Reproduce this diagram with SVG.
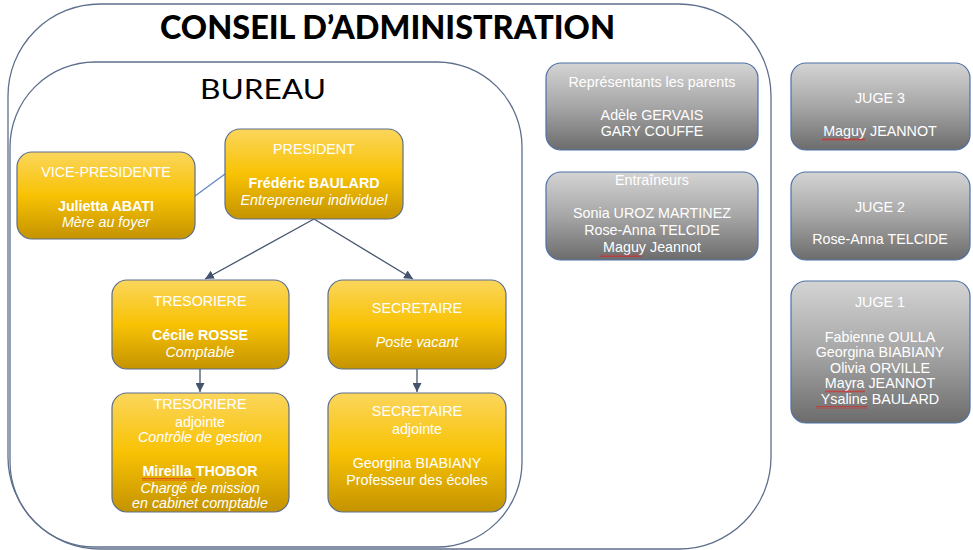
<svg xmlns="http://www.w3.org/2000/svg" width="973" height="550" viewBox="0 0 973 550">
<defs>
<linearGradient id="gy" x1="0" y1="0" x2="0" y2="1">
<stop offset="0" stop-color="#fbd65c"/>
<stop offset="0.5" stop-color="#f8c204"/>
<stop offset="1" stop-color="#c49300"/>
</linearGradient>
<linearGradient id="gg" x1="0" y1="0" x2="0" y2="1">
<stop offset="0" stop-color="#d4d4d4"/>
<stop offset="0.5" stop-color="#a6a6a6"/>
<stop offset="1" stop-color="#6c6c6c"/>
</linearGradient>
<marker id="ah" viewBox="0 0 10 10" refX="10" refY="5" markerWidth="9" markerHeight="9" markerUnits="userSpaceOnUse" orient="auto">
<path d="M0 0 L10 5 L0 10 Z" fill="#44546e"/>
</marker>
<pattern id="sq" width="4" height="3" patternUnits="userSpaceOnUse">
<path d="M0 2.5 L1 0.5 L2 2.5 L3 0.5 L4 2.5" fill="none" stroke="#e0201e" stroke-width="0.6"/>
</pattern>
</defs>
<style>
.frame{fill:none;stroke:#5d6f8c;stroke-width:1.3}
.y{fill:url(#gy);stroke:#5b6e8e;stroke-width:1.2}
.g{fill:url(#gg);stroke:#4d70a8;stroke-width:1.2}
text{font-family:"Liberation Sans",Arial,sans-serif;font-size:14.3px;fill:#ffffff;text-anchor:middle}
.b{font-weight:bold}
.i{font-style:italic}
.title{font-family:Lato,"Open Sans",sans-serif;fill:#000000;text-anchor:start;font-size:32px;font-weight:900}
.sub{font-family:Lato,"Open Sans",sans-serif;fill:#000000;text-anchor:start;font-size:27px}
.con{fill:none;stroke:#44546e;stroke-width:1.3}
.sq{fill:url(#sq)}
</style>

<g id="conseil">
<rect class="frame" x="8" y="4" width="763" height="545" rx="92" ry="92"/>
<text class="title" x="160" y="39" textLength="455" lengthAdjust="spacingAndGlyphs">CONSEIL D’ADMINISTRATION</text>
</g>
<g id="bureau">
<rect class="frame" x="10" y="62" width="512" height="485" rx="85" ry="85"/>
<text class="sub" x="200" y="99" textLength="126" lengthAdjust="spacingAndGlyphs">BUREAU</text>
</g>

<g id="connectors">
<line x1="195" y1="196" x2="225" y2="174" stroke="#5b86c8" stroke-width="1.2"/>
<line class="con" x1="314" y1="219" x2="205" y2="279" marker-end="url(#ah)"/>
<line class="con" x1="314" y1="219" x2="413" y2="279" marker-end="url(#ah)"/>
<line class="con" x1="200" y1="369" x2="200" y2="392" marker-end="url(#ah)"/>
<line class="con" x1="417" y1="369" x2="417" y2="392" marker-end="url(#ah)"/>
</g>

<g id="vice-presidente">
<rect class="y" x="17" y="152" width="178" height="87" rx="15"/>
<text x="106" y="177">VICE-PRESIDENTE</text>
<text class="b" x="106" y="211">Julietta ABATI</text>
<text class="i" x="106" y="227">Mère au foyer</text>
</g>
<g id="president">
<rect class="y" x="225" y="129" width="178" height="90" rx="15"/>
<text x="314" y="154">PRESIDENT</text>
<text class="b" x="314" y="188">Frédéric BAULARD</text>
<text class="i" x="314" y="205">Entrepreneur individuel</text>
</g>
<g id="tresoriere">
<rect class="y" x="112" y="280" width="177" height="89" rx="15"/>
<text x="200" y="306">TRESORIERE</text>
<text class="b" x="200" y="340">Cécile ROSSE</text>
<text class="i" x="200" y="357">Comptable</text>
</g>
<g id="secretaire">
<rect class="y" x="328" y="280" width="178" height="89" rx="15"/>
<text x="417" y="313">SECRETAIRE</text>
<text class="i" x="417" y="347">Poste vacant</text>
</g>
<g id="tresoriere-adjointe">
<rect class="y" x="112" y="393" width="177" height="119" rx="15"/>
<text x="200" y="409">TRESORIERE</text>
<text x="200" y="427">adjointe</text>
<text class="i" x="200" y="442">Contrôle de gestion</text>
<text class="b" x="200" y="476">Mireilla THOBOR</text>
<text class="i" x="200" y="493">Chargé de mission</text>
<text class="i" x="200" y="508">en cabinet comptable</text>
<rect class="sq" x="142" y="478" width="53" height="3"/>
</g>
<g id="secretaire-adjointe">
<rect class="y" x="328" y="393" width="178" height="119" rx="15"/>
<text x="417" y="416">SECRETAIRE</text>
<text x="417" y="434">adjointe</text>
<text x="417" y="468">Georgina BIABIANY</text>
<text x="417" y="485">Professeur des écoles</text>
</g>

<g id="parents">
<rect class="g" x="546" y="63" width="212" height="87" rx="15"/>
<text x="652" y="87">Représentants les parents</text>
<text x="652" y="120">Adèle GERVAIS</text>
<text x="652" y="136">GARY COUFFE</text>
</g>
<g id="entraineurs">
<rect class="g" x="546" y="172" width="212" height="88" rx="15"/>
<text x="652" y="185">Entraîneurs</text>
<text x="652" y="218">Sonia UROZ MARTINEZ</text>
<text x="652" y="235">Rose-Anna TELCIDE</text>
<text x="652" y="252">Maguy Jeannot</text>
<rect class="sq" x="600" y="254" width="41" height="3"/>
</g>
<g id="juge3">
<rect class="g" x="791" y="63" width="179" height="87" rx="15"/>
<text x="880" y="103">JUGE 3</text>
<text x="880" y="136">Maguy JEANNOT</text>
<rect class="sq" x="822" y="138" width="43" height="3"/>
</g>
<g id="juge2">
<rect class="g" x="791" y="172" width="179" height="88" rx="15"/>
<text x="880" y="212">JUGE 2</text>
<text x="880" y="244">Rose-Anna TELCIDE</text>
</g>
<g id="juge1">
<rect class="g" x="791" y="281" width="179" height="142" rx="15"/>
<text x="880" y="307">JUGE 1</text>
<text x="880" y="342">Fabienne OULLA</text>
<text x="880" y="357">Georgina BIABIANY</text>
<text x="880" y="373">Olivia ORVILLE</text>
<text x="880" y="388">Mayra JEANNOT</text>
<text x="880" y="404">Ysaline BAULARD</text>
<rect class="sq" x="825" y="390" width="40" height="3"/>
<rect class="sq" x="816" y="406" width="51" height="3"/>
</g>
</svg>
